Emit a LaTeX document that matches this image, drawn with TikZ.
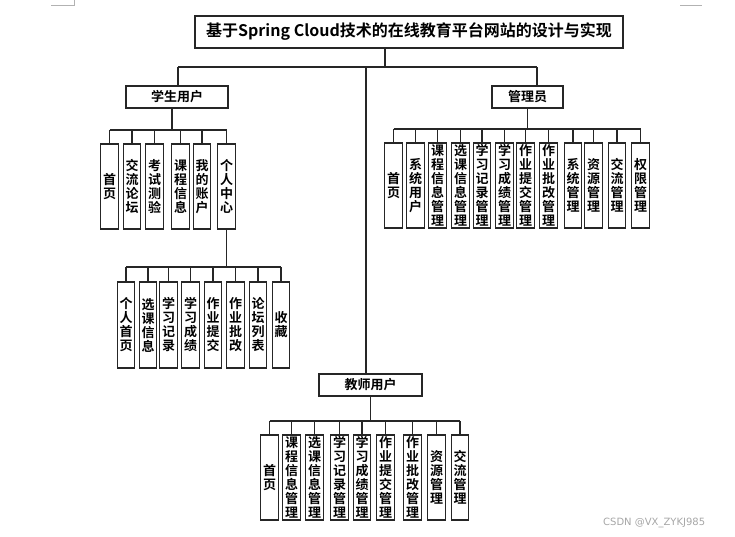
\documentclass[tikz,border=0pt]{standalone}
\usepackage{fontspec}
\setmainfont{Noto Sans CJK SC}[BoldFont={Noto Sans CJK SC Bold}]
\newfontfamily\wmfont{DejaVu Sans}
\begin{document}
\begin{tikzpicture}[x=1pt,y=-1pt,
  box/.style={draw=black!85, line width=1.2pt, fill=white, inner sep=0pt,
    font=\bfseries\fontsize{13}{14}\selectfont, align=center},
  hbox/.style={box, minimum height=22pt},
  vbox/.style={box, minimum width=17.5pt, minimum height=85pt},
  link/.style={black!85, line width=1.1pt}]
\useasboundingbox (0,0) rectangle (735,536);
% page corner marks
\draw[black!30, line width=0.8pt] (51,5) -- (74,5) -- (74,0);
\draw[black!30, line width=0.8pt] (680,5) -- (702,5);
% title
\node[box, minimum width=428pt, minimum height=32pt, font=\bfseries\fontsize{16}{18}\selectfont] (title) at (409,32) {基于Spring Cloud技术的在线教育平台网站的设计与实现};
% second level
\node[hbox, minimum width=102pt] (stu) at (177,97) {学生用户};
\node[hbox, minimum width=71pt] (adm) at (527.5,97) {管理员};
\node[hbox, minimum width=103pt] (tea) at (370.5,385) {教师用户};
% top bar
\coordinate (tstem) at (385,67);
\coordinate (tl) at (178,67);
\coordinate (tr) at (537,67);
\coordinate (tm) at (366,67);
\draw[link] (title.south -| tstem) -- (tstem);
\draw[link] (tl) -- (tr);
\draw[link] (tl) -- (stu.north -| tl);
\draw[link] (tr) -- (adm.north -| tr);
\draw[link] (tm) -- (tea.north -| tm);
% student children
\foreach \n/\x/\t in {s1/109.5/首\\页, s2/132/交\\流\\论\\坛, s3/154.5/考\\试\\测\\验,
  s4/180.5/课\\程\\信\\息, s5/202/我\\的\\账\\户, s6/226.5/个\\人\\中\\心}
  \node[vbox] (\n) at (\x,186.5) {\t};
\coordinate (sb) at (172,130);
\draw[link] (stu.south -| sb) -- (sb);
\draw[link] (s1.north |- sb) -- (s6.north |- sb);
\foreach \n in {s1,s2,s3,s4,s5,s6} \draw[link] (\n.north |- sb) -- (\n.north);
% personal centre children
\foreach \n/\x/\t in {p1/126/个\\人\\首\\页, p2/148/选\\课\\信\\息, p3/168.5/学\\习\\记\\录,
  p4/190.5/学\\习\\成\\绩, p5/213/作\\业\\提\\交, p6/235.5/作\\业\\批\\改,
  p7/258/论\\坛\\列\\表, p8/281/收\\藏}
  \node[vbox, minimum height=86pt] (\n) at (\x,325) {\t};
\coordinate (pb) at (226.5,267);
\draw[link] (s6.south) -- (pb);
\draw[link] (p1.north |- pb) -- (p8.north |- pb);
\foreach \n in {p1,p2,p3,p4,p5,p6,p7,p8} \draw[link] (\n.north |- pb) -- (\n.north);
% admin children
\foreach \n/\x/\t in {a1/393.5/首\\页, a2/415.5/系\\统\\用\\户, a3/437.5/课\\程\\信\\息\\管\\理,
  a4/460.5/选\\课\\信\\息\\管\\理, a5/482/学\\习\\记\\录\\管\\理, a6/504.5/学\\习\\成\\绩\\管\\理,
  a7/525.5/作\\业\\提\\交\\管\\理, a8/548.5/作\\业\\批\\改\\管\\理, a9/573/系\\统\\管\\理,
  a10/593.5/资\\源\\管\\理, a11/617/交\\流\\管\\理, a12/640.5/权\\限\\管\\理}
  \node[vbox] (\n) at (\x,185.5) {\t};
\coordinate (ab) at (527.5,129);
\draw[link] (adm.south) -- (ab);
\draw[link] (a1.north |- ab) -- (a12.north |- ab);
\foreach \n in {a1,a2,a3,a4,a5,a6,a7,a8,a9,a10,a11,a12} \draw[link] (\n.north |- ab) -- (\n.north);
% teacher children
\foreach \n/\x/\t in {t1/269.5/首\\页, t2/291.5/课\\程\\信\\息\\管\\理, t3/314.5/选\\课\\信\\息\\管\\理,
  t4/339.5/学\\习\\记\\录\\管\\理, t5/362/学\\习\\成\\绩\\管\\理, t6/385.5/作\\业\\提\\交\\管\\理,
  t7/412.5/作\\业\\批\\改\\管\\理, t8/436.5/资\\源\\管\\理, t9/460/交\\流\\管\\理}
  \node[vbox] (\n) at (\x,477.5) {\t};
\coordinate (tb) at (370.5,421);
\draw[link] (tea.south) -- (tb);
\draw[link] (t1.north |- tb) -- (t9.north |- tb);
\foreach \n in {t1,t2,t3,t4,t5,t6,t7,t8,t9} \draw[link] (\n.north |- tb) -- (\n.north);
% watermark
\node[font=\wmfont\fontsize{10}{12}\selectfont, text=black!35, anchor=west, inner sep=0pt] (wm) at (603,523) {CSDN @VX\_ZYKJ985};
\end{tikzpicture}
\end{document}
